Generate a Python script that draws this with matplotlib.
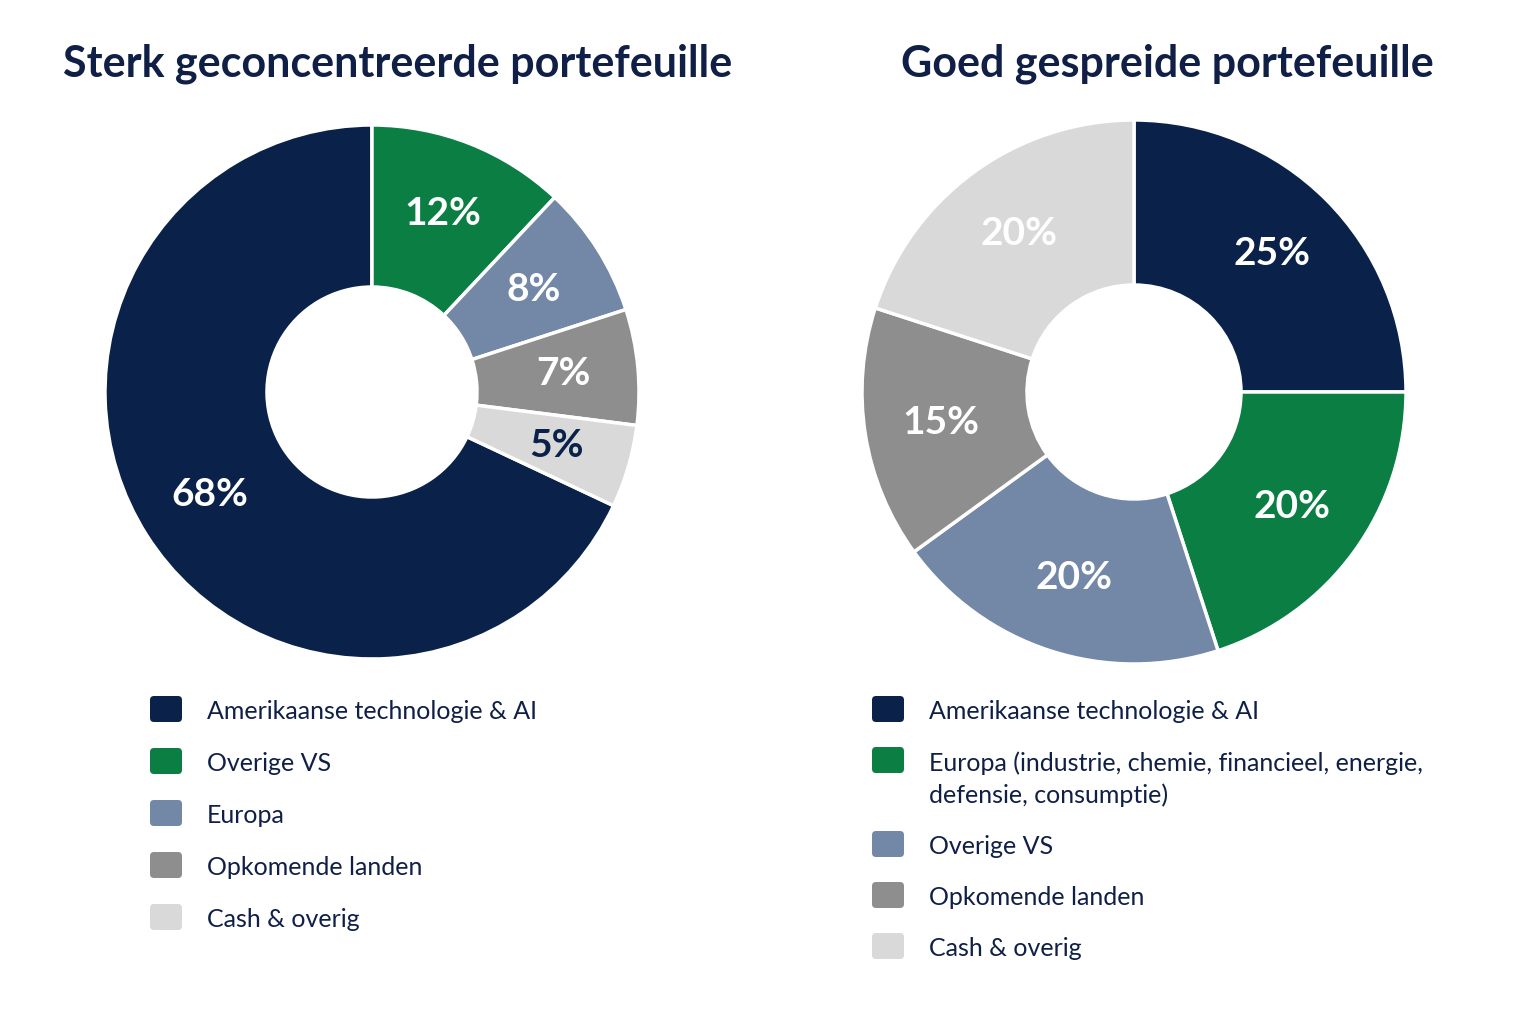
import numpy as np
import matplotlib.pyplot as plt
from matplotlib.patches import FancyBboxPatch

plt.rcParams['font.family'] = ['Lato', 'DejaVu Sans']

NAVY = '#0a2249'
GREEN = '#0b7f43'
BLUE = '#7387a6'
GRAY = '#8e8e8e'
LIGHT = '#d9d9d9'
TEXT = '#0f1f45'

# left chart
left_title = 'Sterk geconcentreerde portefeuille'
left_labels = ['Amerikaanse technologie & AI', 'Overige VS', 'Europa',
               'Opkomende landen', 'Cash & overig']
left_values = [68, 12, 8, 7, 5]
left_colors = [NAVY, GREEN, BLUE, GRAY, LIGHT]
left_pct_colors = ['white', 'white', 'white', 'white', NAVY]

# right chart
right_title = 'Goed gespreide portefeuille'
right_labels = ['Amerikaanse technologie & AI',
                'Europa (industrie, chemie, financieel, energie,\ndefensie, consumptie)',
                'Overige VS', 'Opkomende landen', 'Cash & overig']
right_values = [25, 20, 20, 15, 20]
right_colors = [NAVY, GREEN, BLUE, GRAY, LIGHT]
right_pct_colors = ['white'] * 5

W, H = 1536, 1024
fig = plt.figure(figsize=(W / 100, H / 100), dpi=100)
ax = fig.add_axes([0, 0, 1, 1])


def donut(cx, cy, r, hole, values, colors, pct_colors, start):
    wedges, _ = ax.pie(values, colors=colors, center=(cx, H - cy), radius=r,
                       startangle=start, counterclock=False,
                       wedgeprops=dict(width=r - hole, edgecolor='white', linewidth=2.5))
    rl = (r + hole) / 2 + 6
    for w, v, c in zip(wedges, values, pct_colors):
        ang = np.deg2rad((w.theta1 + w.theta2) / 2)
        ax.text(cx + rl * np.cos(ang), H - cy + rl * np.sin(ang), f'{v}%',
                color=c, fontsize=28, fontweight='bold', ha='center', va='center')


def legend(x, y0, labels, colors, gap=51, line=33):
    y = y0
    for lab, col in zip(labels, colors):
        ax.add_patch(FancyBboxPatch((x, H - y - 13), 32, 26,
                                    boxstyle='round,pad=0,rounding_size=4',
                                    facecolor=col, edgecolor='none'))
        ax.text(x + 57, H - y + 9, lab, color=TEXT, fontsize=18,
                ha='left', va='top', linespacing=1.45)
        y += gap + line * lab.count('\n')


donut(372, 392, 267, 105, left_values, left_colors, left_pct_colors,
      90 + 360 * left_values[0] / sum(left_values))
donut(1134, 392, 272, 107, right_values, right_colors, right_pct_colors, 90)

ax.text(398, H - 64, left_title, color=TEXT, fontsize=31, fontweight='bold',
        ha='center', va='center')
ax.text(1167, H - 64, right_title, color=TEXT, fontsize=31, fontweight='bold',
        ha='center', va='center')

legend(150, 709, left_labels, left_colors, gap=52)
legend(872, 709, right_labels, right_colors)

# pie() resets the limits, so set them last
ax.set_xlim(0, W)
ax.set_ylim(0, H)
ax.set_aspect('equal')
ax.axis('off')

fig.savefig('out.png', dpi=100, facecolor='white')
